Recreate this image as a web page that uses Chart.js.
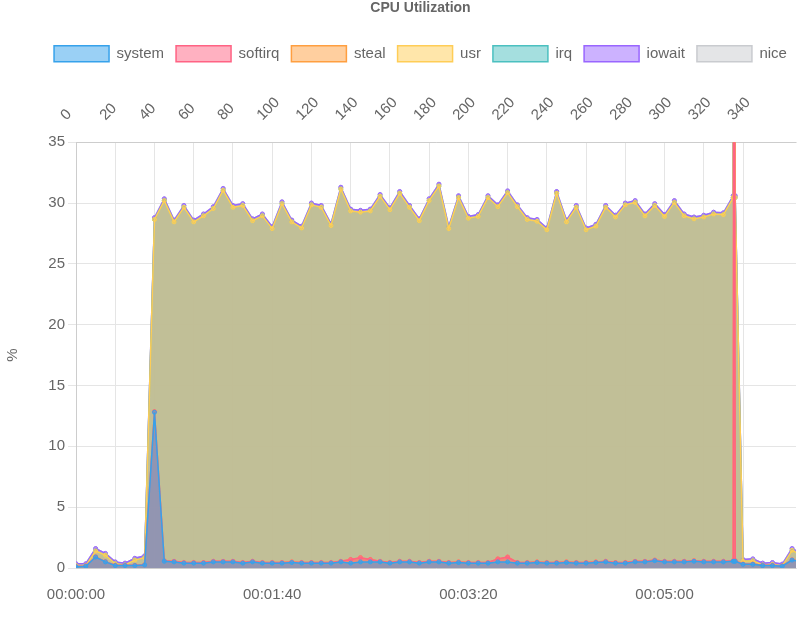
<!DOCTYPE html>
<html>
<head>
<meta charset="utf-8">
<script src="https://cdn.jsdelivr.net/npm/chart.js@4"></script>
<style>
  html, body { margin: 0; padding: 0; background: #fff; overflow: hidden; }
  #wrap { width: 801px; height: 636px; }
</style>
</head>
<body>
<div id="wrap"><canvas id="chart-cpu"></canvas></div>
<script>
// seconds since start
const times = [0, 5, 10, 15, 20, 25, 30, 35,
    40, 45, 50, 55, 60, 65, 70, 75, 80, 85, 90, 95, 100, 105, 110, 115,
    120, 125, 130, 135, 140, 145, 150, 155, 160, 165, 170, 175, 180, 185, 190,
    195, 200, 205, 210, 215, 220, 225, 230, 235, 240, 245, 250, 255, 260, 265, 270,
    275, 280, 285, 290, 295, 300, 305, 310, 315, 320, 325, 330, 335, 335.5, 336,
    340, 345, 350, 355, 360, 365, 370];

const systemVals = [0.1, 0.15, 0.9, 0.5, 0.2, 0.2, 0.2, 0.25,
    12.8, 0.55, 0.5, 0.4, 0.4, 0.4, 0.5, 0.5, 0.5, 0.4, 0.5, 0.4, 0.4, 0.4, 0.45, 0.4,
    0.4, 0.4, 0.4, 0.5, 0.4, 0.5, 0.5, 0.5, 0.4, 0.5, 0.5, 0.4, 0.5, 0.5, 0.4,
    0.45, 0.4, 0.4, 0.4, 0.5, 0.5, 0.4, 0.4, 0.45, 0.4, 0.4, 0.45, 0.4, 0.4, 0.45, 0.5,
    0.4, 0.4, 0.5, 0.5, 0.6, 0.5, 0.5, 0.5, 0.55, 0.5, 0.5, 0.5, 0.55, 0.55, 0.55,
    0.3, 0.3, 0.2, 0.2, 0.15, 0.65, 0.5];

const softirqVals = [0.02, 0.02, 0.02, 0.02, 0.02, 0.02, 0.02, 0.02,
    0.05, 0.05, 0.05, 0.05, 0.05, 0.05, 0.05, 0.05, 0.05, 0.05, 0.05, 0.05, 0.05, 0.05, 0.05, 0.05,
    0.05, 0.05, 0.05, 0.05, 0.3, 0.35, 0.2, 0.05, 0.05, 0.05, 0.05, 0.05, 0.05, 0.05, 0.05,
    0.05, 0.05, 0.05, 0.05, 0.25, 0.4, 0.05, 0.05, 0.05, 0.05, 0.05, 0.05, 0.05, 0.05, 0.05, 0.05,
    0.05, 0.05, 0.05, 0.05, 0.05, 0.05, 0.05, 0.05, 0.05, 0.05, 0.05, 0.05, 0.05, 90, 0.05,
    0.02, 0.02, 0.02, 0.02, 0.02, 0.02, 0.02];

const usrVals = [0.08, 0.03, 0.48, 0.53, 0.13, 0.03, 0.43, 0.58,
    15.8, 29.6, 27.9, 29.2, 28.0, 28.5, 29.0, 30.5, 29.1, 29.35, 28.0, 28.5, 27.45, 29.5, 27.95, 27.5,
    29.4, 29.2, 27.7, 30.6, 28.65, 28.4, 28.65, 30.0, 29.0, 30.25, 29.1, 28.1, 29.65, 30.85, 27.45,
    29.95, 28.3, 28.45, 30.0, 28.95, 29.95, 29.25, 28.2, 28.0, 27.35, 30.35, 27.95, 29.2, 27.35, 27.6, 29.1,
    28.4, 29.4, 29.5, 28.4, 29.15, 28.35, 29.5, 28.4, 28.1, 28.3, 28.55, 28.5, 29.85, 29.85, 29.85,
    0.23, 0.28, 0.03, 0.08, 0.0, 0.78, 0.53];

const iowaitVals = [0.15, 0.15, 0.2, 0.15, 0.15, 0.15, 0.15, 0.15,
    0.15, 0.15, 0.15, 0.15, 0.15, 0.15, 0.15, 0.15, 0.15, 0.15, 0.15, 0.15, 0.15, 0.15, 0.15, 0.15,
    0.15, 0.15, 0.15, 0.15, 0.15, 0.15, 0.15, 0.15, 0.15, 0.15, 0.15, 0.15, 0.15, 0.15, 0.15,
    0.15, 0.15, 0.15, 0.15, 0.15, 0.15, 0.15, 0.15, 0.15, 0.15, 0.15, 0.15, 0.15, 0.15, 0.15, 0.15,
    0.15, 0.15, 0.15, 0.15, 0.15, 0.15, 0.15, 0.15, 0.15, 0.15, 0.15, 0.15, 0.15, 0.15, 0.15,
    0.15, 0.15, 0.15, 0.15, 0.15, 0.15, 0.15];

const zeroVals = times.map(() => 0); // steal, irq, nice were all zero

const seriesNames = ['system', 'softirq', 'steal', 'usr', 'irq', 'iowait', 'nice'];
const seriesValues = [systemVals, softirqVals, zeroVals, usrVals, zeroVals, iowaitVals, zeroVals];
const seriesColors = [
    [54, 162, 235], [255, 99, 132], [255, 159, 64], [255, 205, 86],
    [75, 192, 192], [153, 102, 255], [201, 203, 207]
];

function fmtTime(sec) {
    const h = Math.floor(sec / 3600);
    const m = Math.floor((sec % 3600) / 60);
    const s = Math.floor(sec % 60);
    return [h, m, s].map(v => String(v).padStart(2, '0')).join(':');
}

Chart.defaults.font.family = '"Liberation Sans", Arial, sans-serif';
Chart.defaults.color = '#666';

// a bit more room under the legend
const legendGap = {
    id: 'legendGap',
    beforeInit(chart) {
        const origFit = chart.legend.fit;
        chart.legend.fit = function () {
            origFit.bind(chart.legend)();
            this.height += 4;
        };
    }
};

new Chart(document.getElementById('chart-cpu'), {
    type: 'line',
    plugins: [legendGap],
    data: {
        datasets: seriesNames.map((name, i) => {
            const c = seriesColors[i].join(',');
            return {
                label: name,
                data: times.map((t, j) => ({ x: t, y: seriesValues[i][j] })),
                borderColor: `rgb(${c})`,
                backgroundColor: `rgba(${c},0.5)`,
                borderWidth: 1.5,
                pointRadius: 2,
                pointBorderWidth: 1,
                tension: 0,
                fill: 'origin'
            };
        })
    },
    options: {
        responsive: true,
        maintainAspectRatio: false,
        animation: false,
        layout: { padding: { right: -40, bottom: 22 } },
        plugins: {
            title: {
                display: true,
                text: 'CPU Utilization',
                font: { size: 14, weight: 'bold' },
                padding: { top: 0, bottom: 17 }
            },
            legend: {
                labels: { boxWidth: 55, boxHeight: 16, font: { size: 15 }, padding: 12 }
            }
        },
        scales: {
            x: {
                type: 'linear',
                position: 'bottom',
                min: 0,
                max: 367,
                grid: { display: false },
                ticks: {
                    stepSize: 100,
                    maxRotation: 0,
                    font: { size: 15 },
                    padding: 10,
                    callback: v => (v % 100 === 0 ? fmtTime(v) : null)
                }
            },
            xTop: {
                type: 'linear',
                position: 'top',
                min: 0,
                max: 367,
                grid: { color: '#e5e5e5', drawTicks: false },
                ticks: {
                    stepSize: 20,
                    minRotation: 45,
                    maxRotation: 45,
                    font: { size: 15 },
                    padding: 18,
                    callback: v => (v % 20 === 0 ? v : null)
                }
            },
            y: {
                stacked: true,
                min: 0,
                max: 35,
                grid: { color: '#e5e5e5' },
                ticks: { stepSize: 5, font: { size: 15 } },
                title: { display: true, text: '%', font: { size: 15 } },
                afterFit: s => { s.width = 76; }
            }
        }
    }
});
</script>
</body>
</html>
